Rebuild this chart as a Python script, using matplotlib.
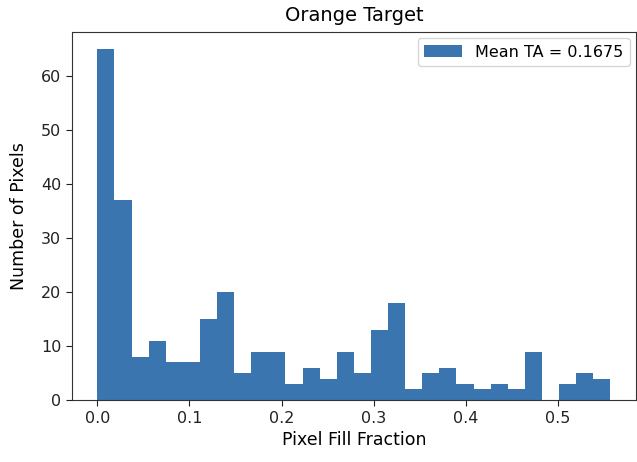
import numpy as np
import matplotlib
matplotlib.use("Agg")
import matplotlib.pyplot as plt

counts = [65, 37, 8, 11, 7, 7, 15, 20, 5, 9, 9, 3, 6, 4, 9, 5, 13, 18, 2, 5,
          6, 3, 2, 3, 2, 9, 0, 3, 5, 4]
x_min, x_max = 0.0, 0.557
n_bins = 30
xticks = [0.0, 0.1, 0.2, 0.3, 0.4, 0.5]
yticks = [0, 10, 20, 30, 40, 50, 60]
legend_label = "Mean TA = 0.1675"

edges = np.linspace(x_min, x_max, n_bins + 1)
centers = (edges[:-1] + edges[1:]) / 2

plt.rcParams['font.family'] = ['DejaVu Sans']
fig = plt.figure(figsize=(6.37, 4.62), dpi=100)
ax = fig.add_axes([0.1125, 0.134, 0.886, 0.797])
ax.hist(centers, bins=edges, weights=counts, color='#3a75b0', label=legend_label)
ax.set_xticks(xticks)
ax.set_xticklabels([f"{t:.1f}" for t in xticks])
ax.set_yticks(yticks)
ax.tick_params(labelsize=11.5, colors='#222222', length=4)
for s in ax.spines.values():
    s.set_color('#333333')
ax.set_title("Orange Target", fontsize=14, pad=8)
ax.set_xlabel("Pixel Fill Fraction", fontsize=12.5, labelpad=4)
ax.set_ylabel("Number of Pixels", fontsize=12.5, labelpad=9)
ax.legend(loc='upper right', fontsize=11.5, handlelength=2.4, borderaxespad=0.4)
fig.savefig("out.png", dpi=100)
